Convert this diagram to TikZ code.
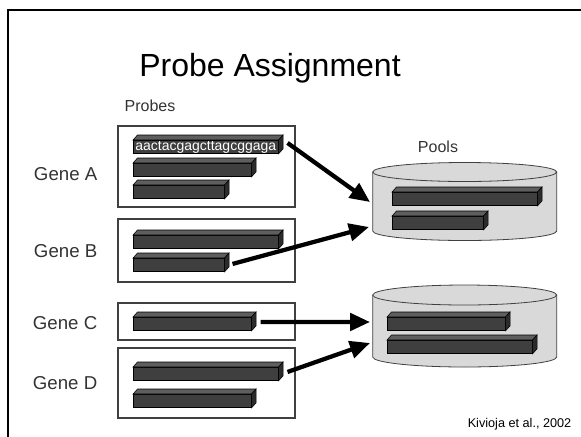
\documentclass[tikz,border=0pt]{standalone}
\usepackage{fontspec}
\setmainfont{Liberation Sans}
\usetikzlibrary{arrows.meta}
\definecolor{barfront}{HTML}{3F3F3F}
\definecolor{bartop}{HTML}{5E5E5E}
\definecolor{barside}{HTML}{2B2B2B}
\definecolor{poolgray}{HTML}{D9D9D9}
\definecolor{framegray}{HTML}{404040}
\definecolor{labelgray}{HTML}{333333}

\begin{document}
\begin{tikzpicture}[x=0.75pt, y=-0.75pt,
    probe/.style={draw=black, fill=barfront, inner sep=0pt, anchor=north west,
                  minimum height=10pt, line width=0.4pt},
    longprobe/.style={probe, minimum width=108.75pt},
    midprobe/.style={probe, minimum width=88.5pt},
    shortprobe/.style={probe, minimum width=68.25pt},
    top face/.style={draw=black, fill=bartop, line width=0.4pt},
    side face/.style={draw=black, fill=barside, line width=0.4pt},
    genebox/.style={draw=framegray, line width=1.5pt},
    gene/.style={anchor=base east, font=\fontsize{14}{16}\selectfont, text=labelgray},
    heading/.style={anchor=base, font=\fontsize{12}{14}\selectfont, text=labelgray},
    pool/.style={draw=framegray, line width=0.6pt},
    flow/.style={-{Triangle[length=15pt, width=13pt]}, line width=3.2pt}
  ]
    \useasboundingbox (0,0) rectangle (581,436);

    % Slide frame and title
    \draw[line width=1.5pt] (600,10) -- (8,10) -- (8,450);
    \node[anchor=base, font=\fontsize{24}{28}\selectfont] (title) at (270,76) {Probe Assignment};
    \node[heading] (probes) at (150,111) {Probes};
    \node[heading] (pools) at (438,152) {Pools};

    % Genes
    \node[gene] (gA) at (102,180) {Gene A};
    \node[gene] (gB) at (102,257) {Gene B};
    \node[gene] (gC) at (102,329) {Gene C};
    \node[gene] (gD) at (102,389) {Gene D};
    \draw[genebox] (118,126) rectangle (295,207);
    \draw[genebox] (118,219) rectangle (295,282);
    \draw[genebox] (118,303) rectangle (295,340);
    \draw[genebox] (118,348) rectangle (295,418);

    % Pool 1
    \fill[poolgray] (372.7,172) -- (372.7,231)
      arc[start angle=180, end angle=0, x radius=92, y radius=9.5] -- (556.7,172) -- cycle;
    \draw[pool] (372.7,172) -- (372.7,231)
      arc[start angle=180, end angle=0, x radius=92, y radius=9.5] -- (556.7,172);
    \draw[pool, fill=poolgray] (464.7,172) ellipse[x radius=92, y radius=9.5];

    % Pool 2
    \fill[poolgray] (372.7,295) -- (372.7,357)
      arc[start angle=180, end angle=0, x radius=92, y radius=10] -- (556.7,295) -- cycle;
    \draw[pool] (372.7,295) -- (372.7,357)
      arc[start angle=180, end angle=0, x radius=92, y radius=10] -- (556.7,295);
    \draw[pool, fill=poolgray] (464.7,295) ellipse[x radius=92, y radius=10];

    % Probes
    \node[longprobe, text=white, font=\fontsize{10.5}{12}\selectfont] (A1) at (133,140) {aactacgagcttagcggaga};
    \node[midprobe] (A2) at (133,163) {};
    \node[shortprobe] (A3) at (133,185) {};
    \node[longprobe] (B1) at (133,235) {};
    \node[shortprobe] (B2) at (133,258) {};
    \node[midprobe] (C1) at (133,317) {};
    \node[longprobe] (D1) at (133,367) {};
    \node[midprobe] (D2) at (133,394) {};
    \node[longprobe] (Q1) at (392,192) {};
    \node[shortprobe] (Q2) at (392,216) {};
    \node[midprobe] (R1) at (387,317) {};
    \node[longprobe] (R2) at (387,340) {};
    \foreach \p in {A1,A2,A3,B1,B2,C1,D1,D2,Q1,Q2,R1,R2} {
      \draw[top face] (\p.north west) -- ([shift={(4.5,-5)}]\p.north west)
        -- ([shift={(4.5,-5)}]\p.north east) -- (\p.north east) -- cycle;
      \draw[side face] (\p.north east) -- ([shift={(4.5,-5)}]\p.north east)
        -- ([shift={(4.5,-5)}]\p.south east) -- (\p.south east) -- cycle;
    }

    % Assignment arrows
    \coordinate (in1) at (370,202);
    \coordinate (in2) at (369,227);
    \coordinate (in3) at (370,322);
    \coordinate (in4) at (370,343);
    \draw[flow] ([shift={(9,-4)}]A1.east) -- (in1);
    \draw[flow] ([shift={(8,-1)}]B2.east) -- (in2);
    \draw[flow] ([shift={(9,-2)}]C1.east) -- (in3);
    \draw[flow] ([shift={(9,-2)}]D1.east) -- (in4);

    \node[anchor=base east, font=\fontsize{9.5}{11}\selectfont] (cite) at (576,427) {Kivioja et al., 2002};
  \end{tikzpicture}
\end{document}
